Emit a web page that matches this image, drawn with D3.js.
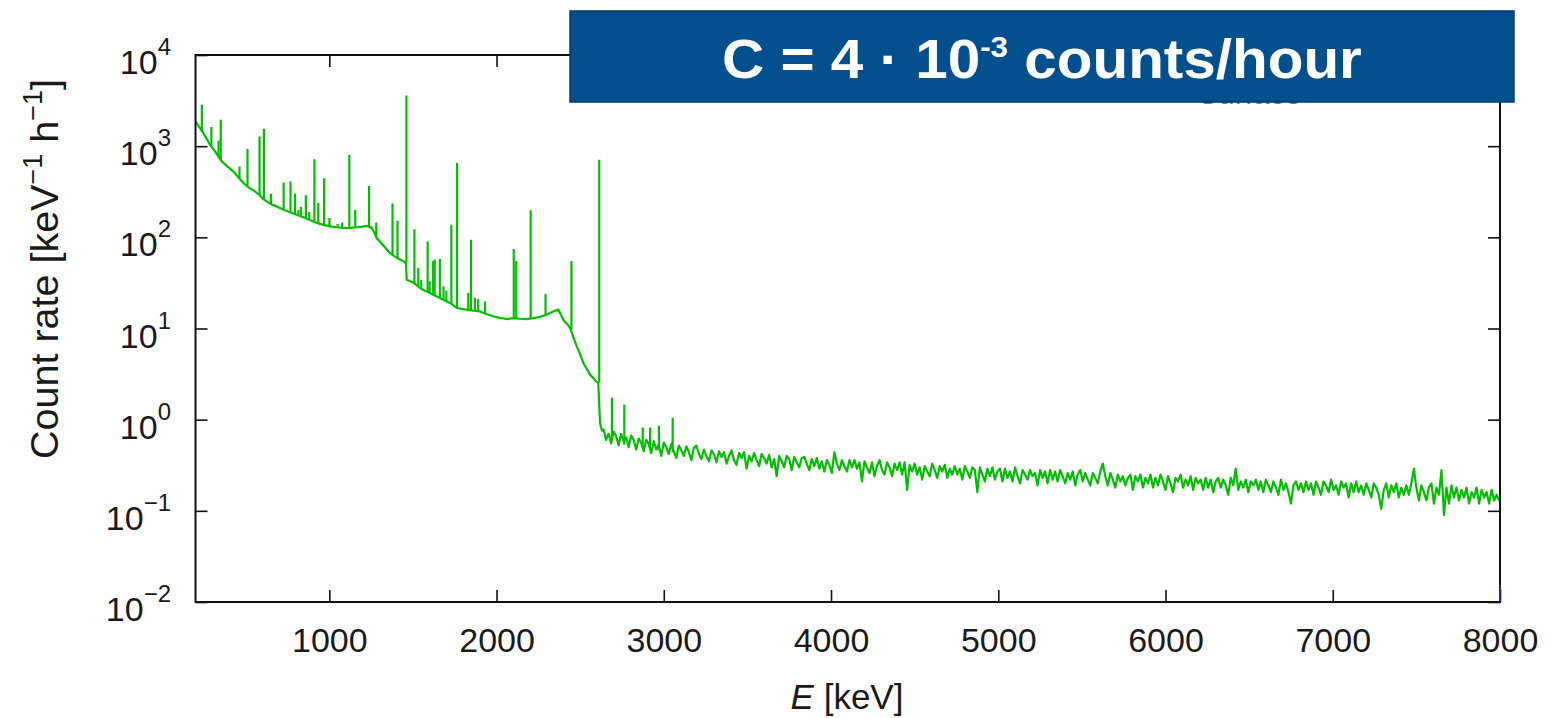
<!DOCTYPE html>
<html><head><meta charset="utf-8">
<script src="https://cdn.jsdelivr.net/npm/d3@7"></script>
<style>body{margin:0;background:#fff} svg{display:block}</style>
</head><body>
<svg id="c" width="1553" height="718"></svg>
<script>
// ---------- data ----------
const xTicks = [1000, 2000, 3000, 4000, 5000, 6000, 7000, 8000];
const yTickExp = [-2, -1, 0, 1, 2, 3, 4];
const yTickLabels = ["−2", "−1", "0", "1", "2", "3", "4"];

// smooth continuum below the 2614 keV line (keV, counts/keV/h)
const contE = [200,215,230,247,265,287,300,317,335,357,390,426,455,486,520,550,566,585,600,626,660,705,735,765,800,845,885,925,965,1004,1040,1084,1120,1164,1200,1224,1254,1270,1283,1303,1330,1363,1395,1423,1447,1458,1463,1502,1542,1572,1602,1630,1662,1690,1722,1762,1790,1822,1860,1901,1940,1981,2020,2061,2100,2140,2180,2220,2260,2300,2340,2369,2385,2399,2420,2439,2460,2479,2500,2519,2540,2559,2580,2595,2608,2619,2630];
const contV = [1870,1700,1550,1396,1220,1038,960,877,780,681,600,529,460,395,350,325,307,290,268,248,228,210,198,188,178,166,155,144,137,132,129,127,126,129,131,134,127,112,98,90,79,67,61,57,54,52,34.3,32,27.8,26.0,24.5,23.0,21.6,20.3,19.1,16.8,16.4,16.1,15.7,15.4,14.4,13.6,13.1,12.7,13.0,12.8,12.7,13.0,13.4,14.2,15.4,16.1,14.2,12.5,11.3,10.2,8.0,6.4,5.2,4.2,3.6,3.12,2.85,2.63,2.55,0.92,0.76];

// channel contents above 2640 keV, one per 15 keV bin
const noiseStartE = 2640, noiseStepE = 15;
const noiseV = [
0.78,0.60,0.70,0.55,0.74,0.66,0.52,0.70,0.58,0.64,0.50,0.67,0.60,0.47,0.62,0.56,0.45,0.60,0.54,0.43,
0.58,0.47,0.53,0.40,0.56,0.50,0.42,0.54,0.45,0.38,0.52,0.46,0.40,0.51,0.44,0.36,0.49,0.52,0.42,0.37,
0.47,0.40,0.35,0.46,0.42,0.34,0.45,0.39,0.44,0.33,0.40,0.46,0.36,0.32,0.43,0.38,0.44,0.29,0.40,0.35,
0.43,0.36,0.31,0.42,0.38,0.33,0.41,0.30,0.37,0.24,0.40,0.35,0.30,0.40,0.37,0.28,0.39,0.34,0.30,0.38,
0.39,0.33,0.28,0.37,0.31,0.38,0.29,0.35,0.27,0.36,0.32,0.26,0.44,0.33,0.28,0.36,0.31,0.27,0.36,0.30,
0.36,0.29,0.34,0.21,0.35,0.30,0.26,0.34,0.24,0.31,0.36,0.28,0.25,0.34,0.30,0.24,0.33,0.28,0.34,0.25,
0.34,0.17,0.32,0.27,0.33,0.25,0.30,0.22,0.31,0.27,0.24,0.33,0.28,0.23,0.31,0.27,0.32,0.23,0.29,0.25,
0.31,0.25,0.29,0.22,0.31,0.27,0.23,0.30,0.28,0.16,0.30,0.25,0.21,0.29,0.24,0.30,0.22,0.27,0.29,0.21,
0.29,0.23,0.27,0.21,0.30,0.24,0.20,0.28,0.25,0.22,0.28,0.24,0.26,0.19,0.28,0.23,0.27,0.20,0.28,0.22,
0.27,0.21,0.28,0.24,0.20,0.26,0.22,0.27,0.19,0.25,0.28,0.21,0.26,0.22,0.19,0.26,0.23,0.20,0.27,0.33,
0.24,0.19,0.26,0.22,0.18,0.25,0.21,0.24,0.19,0.23,0.25,0.17,0.24,0.21,0.25,0.18,0.23,0.20,0.25,0.18,
0.23,0.19,0.25,0.21,0.17,0.24,0.20,0.16,0.23,0.21,0.25,0.18,0.22,0.19,0.24,0.17,0.23,0.20,0.22,0.17,
0.23,0.18,0.22,0.16,0.21,0.23,0.18,0.22,0.19,0.15,0.23,0.19,0.29,0.17,0.21,0.18,0.22,0.16,0.21,0.19,
0.22,0.17,0.21,0.16,0.22,0.19,0.16,0.21,0.18,0.15,0.22,0.17,0.20,0.16,0.12,0.19,0.21,0.17,0.20,0.16,
0.21,0.17,0.20,0.15,0.21,0.18,0.15,0.21,0.19,0.16,0.22,0.17,0.19,0.15,0.21,0.18,0.20,0.14,0.20,0.16,
0.21,0.16,0.19,0.15,0.20,0.17,0.14,0.20,0.18,0.15,0.105,0.17,0.20,0.14,0.19,0.16,0.20,0.14,0.18,0.15,
0.19,0.15,0.20,0.29,0.18,0.13,0.19,0.16,0.13,0.18,0.20,0.12,0.18,0.15,0.28,0.09,0.18,0.12,0.19,0.14,
0.18,0.13,0.17,0.14,0.18,0.12,0.16,0.14,0.18,0.12,0.17,0.14,0.16,0.12,0.17,0.13,0.15,0.13
];

// gamma lines: energy, peak top, continuum under the peak
const peakE    = [238,295,338,351,463,511,583,609,651,675,727,768,795,815,830,860,880,911,934,969,1001,1050,1077,1120,1155,1238,1281,1378,1408,1461,1509,1532,1550,1588,1600,1621,1630,1661,1683,1700,1730,1764,1831,1847,1871,1890,1931,2103,2118,2204,2293,2448,2614,2690,2764,2874,2918,2971,3053];
const peakTop  = [2850,1625,1150,1950,600,930,1280,1550,300,230,400,410,300,200,215,290,190,720,238,446,163,140,145,807,200,365,145,235,152,3600,123,46,34,90,33,55,57,58,29,26,137,655,24.5,94,21.7,21,19.8,74.5,55,198,24,55,711,1.74,1.46,0.82,0.82,0.86,1.05];
const peakBase = [1450,980,770,700,445,355,292,262,232,222,200,187,179,173,170,162,158,148,143,137,132,128,127,126,128,131,99,64,59,53,31,29,28,25,24.5,23.5,23,21.6,20.6,20,18.7,16.8,16,15.8,15.6,15.5,14.6,13.0,12.9,12.8,14.1,9.8,2.55,0.6,0.53,0.5,0.48,0.46,0.44];

// ---------- chart ----------
const svg = d3.select("#c");
const FONT = "'Liberation Sans', Arial, Helvetica, sans-serif";
const m = {left: 195.5, right: 1500, top: 55, bottom: 602};
const x = d3.scaleLinear().domain([200, 8000]).range([m.left, m.right]);
const y = d3.scaleLog().domain([1e-2, 1e4]).range([m.bottom, m.top]);

svg.append("defs").append("clipPath").attr("id", "plot")
  .append("rect").attr("x", m.left).attr("y", m.top)
  .attr("width", m.right - m.left).attr("height", m.bottom - m.top);

// spectrum
const spec = contE.map((e, i) => [e, contV[i]])
  .concat(noiseV.map((v, i) => [noiseStartE + i * noiseStepE, v]));
const line = d3.line().x(d => x(d[0])).y(d => y(d[1]));
const gS = svg.append("g").attr("clip-path", "url(#plot)");
gS.append("path").attr("d", line(spec)).attr("fill", "none")
  .attr("stroke", "#00bf00").attr("stroke-width", 2.2).attr("stroke-linejoin", "round");
gS.selectAll("path.pk").data(peakE).join("path").attr("class", "pk")
  .attr("d", (e, i) => line([[e, peakBase[i]], [e, peakTop[i]]]))
  .attr("fill", "none").attr("stroke", "#00bf00").attr("stroke-width", 2.2);

// axes (ticks inward, mirrored)
const yVals = yTickExp.map(e => Math.pow(10, e));
function styleAxis(g) {
  g.select(".domain").remove();
  g.selectAll(".tick line").attr("stroke", "#111").attr("stroke-width", 1.6);
}
svg.append("g").attr("transform", `translate(0,${m.bottom})`)
  .call(d3.axisBottom(x).tickValues(xTicks).tickSize(-12).tickFormat(d => d))
  .call(styleAxis)
  .call(g => g.selectAll(".tick text").attr("y", 50).attr("dy", null)
    .attr("font-family", FONT).attr("font-size", 34).attr("fill", "#1a1a1a"));
svg.append("g").attr("transform", `translate(0,${m.top})`)
  .call(d3.axisTop(x).tickValues(xTicks).tickSize(-12).tickFormat(""))
  .call(styleAxis);
svg.append("g").attr("transform", `translate(${m.left},0)`)
  .call(d3.axisLeft(y).tickValues(yVals).tickSize(-12).tickFormat(""))
  .call(styleAxis);
svg.append("g").attr("transform", `translate(${m.right},0)`)
  .call(d3.axisRight(y).tickValues(yVals).tickSize(-12).tickFormat(""))
  .call(styleAxis);

// y tick labels 10^n
const yl = svg.append("g").selectAll("text").data(yTickExp).join("text")
  .attr("x", 171).attr("y", e => y(Math.pow(10, e)) + 19)
  .attr("text-anchor", "end").attr("font-family", FONT).attr("fill", "#1a1a1a");
yl.append("tspan").attr("font-size", 34).text("10");
yl.append("tspan").attr("font-size", 24).attr("dy", -19).text((e, i) => yTickLabels[i]);

// frame
svg.append("rect").attr("x", m.left).attr("y", m.top)
  .attr("width", m.right - m.left).attr("height", m.bottom - m.top)
  .attr("fill", "none").attr("stroke", "#111").attr("stroke-width", 2);
svg.append("line").attr("x1", m.right).attr("x2", m.right).attr("y1", 585).attr("y2", m.bottom)
  .attr("stroke", "#22228a").attr("stroke-width", 2);

// axis titles
const yt = svg.append("text").attr("transform", "translate(58,269) rotate(-90)")
  .attr("text-anchor", "middle").attr("font-family", FONT).attr("font-size", 39.5).attr("fill", "#1a1a1a");
yt.append("tspan").text("Count rate [keV");
yt.append("tspan").attr("font-size", 27).attr("dy", -16).text("−1");
yt.append("tspan").attr("dy", 16).text(" h");
yt.append("tspan").attr("font-size", 27).attr("dy", -16).text("−1");
yt.append("tspan").attr("dy", 16).text("]");

const xt = svg.append("text").attr("x", 847).attr("y", 709)
  .attr("text-anchor", "middle").attr("font-family", FONT).attr("font-size", 35).attr("fill", "#1a1a1a");
xt.append("tspan").attr("font-style", "italic").text("E");
xt.append("tspan").text(" [keV]");

// legend entry hidden under the banner
svg.append("text").attr("x", 1198).attr("y", 104).attr("font-family", FONT)
  .attr("font-size", 30).attr("fill", "#777").text("Surface");

// banner
svg.append("rect").attr("x", 570).attr("y", 11).attr("width", 944).attr("height", 91)
  .attr("fill", "#024f8e").attr("stroke", "#013a6b").attr("stroke-width", 1.5);
const bt = svg.append("text").attr("font-family", FONT).attr("font-weight", "bold")
  .attr("font-size", 56).attr("fill", "#fff");
bt.append("tspan").text("C = 4 · 10");
bt.append("tspan").attr("font-size", 30).attr("dy", -21).text("-3");
bt.append("tspan").attr("dy", 21).text(" counts/hour");
const bw = bt.node().getComputedTextLength();
const sx = 640 / bw;
bt.attr("transform", `translate(${1042 - bw * sx / 2},78) scale(${sx},1)`);
</script>
</body></html>
